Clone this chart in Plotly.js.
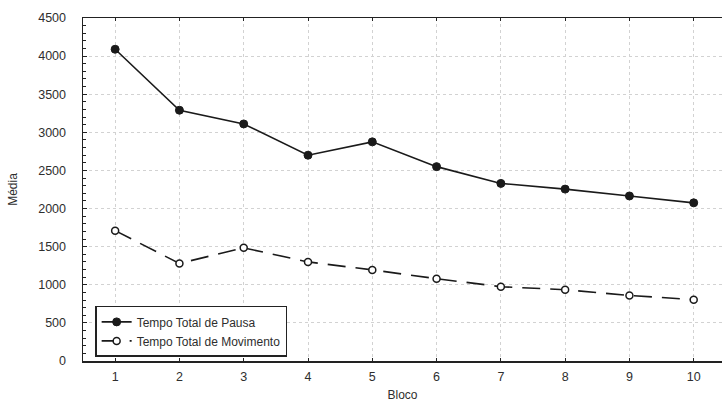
<!DOCTYPE html>
<html>
<head>
<meta charset="utf-8">
<script src="https://cdn.plot.ly/plotly-3.0.1.min.js"></script>
<style>html,body{margin:0;padding:0;background:#fff;}#chart{width:722px;height:411px;}</style>
</head>
<body>
<div id="chart"></div>
<script>
var blocos = [1, 2, 3, 4, 5, 6, 7, 8, 9, 10];
var tempoPausa = [4090, 3290, 3110, 2700, 2875, 2550, 2330, 2255, 2165, 2075];
var tempoMovimento = [1710, 1280, 1485, 1300, 1195, 1080, 975, 935, 860, 805];
var yTicks = [0, 500, 1000, 1500, 2000, 2500, 3000, 3500, 4000, 4500];

var fontFam = '"Liberation Sans", Arial, sans-serif';
var txtColor = '#2e2e2e';

var traces = [
  {
    x: blocos, y: tempoPausa, name: 'Tempo Total de Pausa',
    mode: 'lines+markers', type: 'scatter',
    line: {color: '#1a1a1a', width: 1.6},
    marker: {symbol: 'circle', size: 8, color: '#1a1a1a', line: {color: '#1a1a1a', width: 1}}
  },
  {
    x: blocos, y: tempoMovimento, name: 'Tempo Total de Movimento',
    mode: 'lines+markers', type: 'scatter',
    line: {color: '#1a1a1a', width: 1.6, dash: '18px,10px'},
    marker: {symbol: 'circle', size: 7, color: '#ffffff', line: {color: '#1a1a1a', width: 1.5}}
  }
];

var layout = {
  width: 722, height: 411,
  margin: {l: 83, r: 0, t: 18, b: 50},
  paper_bgcolor: '#ffffff', plot_bgcolor: '#ffffff',
  font: {family: fontFam, size: 12, color: txtColor},
  showlegend: true,
  legend: {
    x: 0.019, y: 0.012, xanchor: 'left', yanchor: 'bottom',
    bgcolor: '#ffffff', bordercolor: '#222222', borderwidth: 1.5,
    font: {family: fontFam, size: 12, color: txtColor},
    tracegroupgap: 0, itemwidth: 30
  },
  xaxis: {
    range: [0.5, 10.44],
    tickvals: blocos, ticktext: blocos.map(String),
    tickfont: {family: fontFam, size: 12.5, color: txtColor},
    ticks: 'inside', ticklen: 3, tickcolor: '#222',
    showline: true, linecolor: '#222', linewidth: 1.5, mirror: 'ticks',
    showgrid: true, gridcolor: '#d2d2d2', griddash: 'dot', gridwidth: 1,
    zeroline: false,
    ticklabelstandoff: 3,
    title: {text: 'Bloco', font: {family: fontFam, size: 12, color: txtColor}, standoff: 8}
  },
  yaxis: {
    range: [0, 4500],
    tickvals: yTicks, ticktext: yTicks.map(String),
    tickfont: {family: fontFam, size: 12.5, color: txtColor},
    ticks: 'inside', ticklen: 4, tickcolor: '#222',
    minor: {dtick: 100, ticks: 'inside', ticklen: 3, tickcolor: '#222', showgrid: false},
    showline: true, linecolor: '#222', linewidth: 1.5, mirror: false,
    showgrid: true, gridcolor: '#d2d2d2', griddash: 'dot', gridwidth: 1,
    zeroline: false,
    ticklabelstandoff: 13,
    title: {text: 'Média', font: {family: fontFam, size: 12, color: txtColor}, standoff: 18}
  }
};

Plotly.newPlot('chart', traces, layout, {displayModeBar: false, staticPlot: true});
</script>
</body>
</html>
